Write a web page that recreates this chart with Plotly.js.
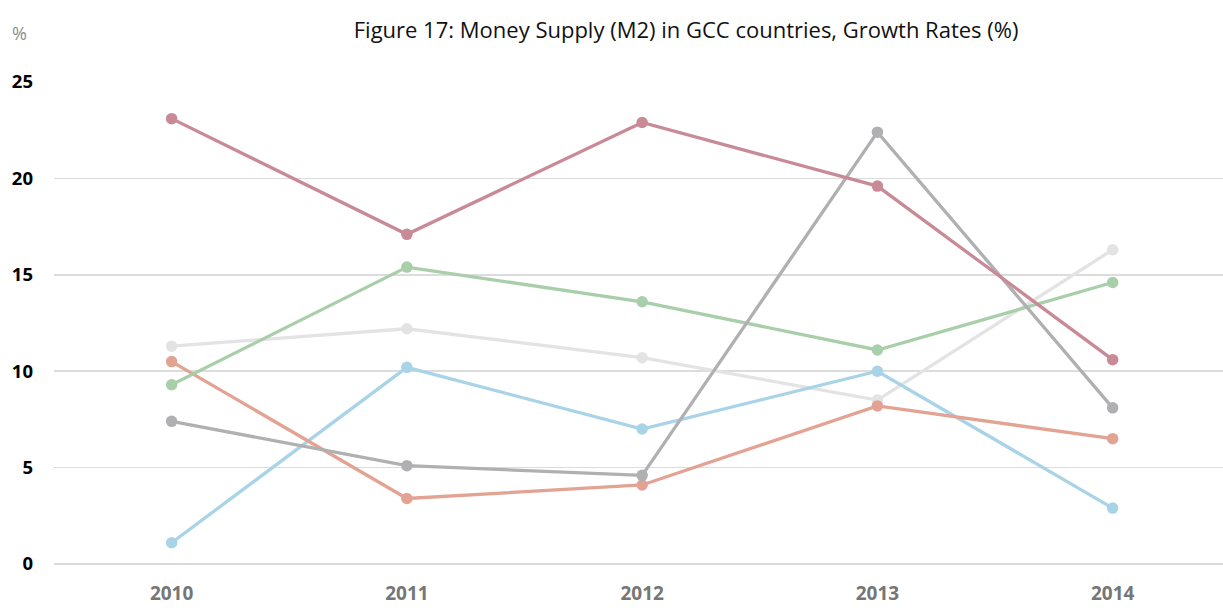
<!DOCTYPE html>
<html>
<head>
<meta charset="utf-8">
<script src="https://cdn.plot.ly/plotly-3.0.1.min.js"></script>
<style>html,body{margin:0;padding:0;background:#fff;}#chart{width:1223px;height:608px;}</style>
</head>
<body>
<div id="chart"></div>
<script>
const years = ["2010", "2011", "2012", "2013", "2014"];
const seriesPink = [23.1, 17.1, 22.9, 19.6, 10.6];
const seriesGreen = [9.3, 15.4, 13.6, 11.1, 14.6];
const seriesLightGray = [11.3, 12.2, 10.7, 8.5, 16.3];
const seriesSalmon = [10.5, 3.4, 4.1, 8.2, 6.5];
const seriesGray = [7.4, 5.1, 4.6, 22.4, 8.1];
const seriesBlue = [1.1, 10.2, 7.0, 10.0, 2.9];
const yTicks = [0, 5, 10, 15, 20, 25];

const defs = [
  {name: "Series 1", y: seriesLightGray, color: "#e3e3e3"},
  {name: "Series 2", y: seriesBlue, color: "#a9d3e6"},
  {name: "Series 3", y: seriesSalmon, color: "#e3a393"},
  {name: "Series 4", y: seriesGreen, color: "#a9cfaa"},
  {name: "Series 5", y: seriesGray, color: "#b0b0b2"},
  {name: "Series 6", y: seriesPink, color: "#c98a97"}
];

const traces = defs.map(d => ({
  type: "scatter",
  mode: "lines+markers",
  name: d.name,
  x: years.map((_, i) => i),
  y: d.y,
  line: {color: d.color, width: 3.3},
  marker: {color: d.color, size: 11.5},
  cliponaxis: false,
  hoverinfo: "y"
}));

const layout = {
  width: 1223,
  height: 608,
  margin: {l: 54, r: 0, t: 82, b: 44},
  paper_bgcolor: "#ffffff",
  plot_bgcolor: "#ffffff",
  showlegend: false,
  font: {family: "Open Sans, sans-serif"},
  title: {
    text: "Figure 17: Money Supply (M2) in GCC countries, Growth Rates (%)",
    font: {family: "Open Sans, sans-serif", size: 22, color: "#111111"},
    x: 0.561, xanchor: "center",
    y: 0.95, yanchor: "middle"
  },
  xaxis: {
    range: [-0.5, 4.469],
    tickmode: "array",
    tickvals: years.map((_, i) => i),
    ticktext: years.map(y => "<b>" + y + "</b>"),
    tickfont: {family: "Open Sans, sans-serif", size: 19, color: "#767676"},
    showgrid: false,
    zeroline: false,
    showline: false,
    ticks: "",
    ticklabelstandoff: 16
  },
  yaxis: {
    range: [0, 25],
    tickmode: "array",
    tickvals: yTicks,
    ticktext: yTicks.map(v => "<b>" + v + "</b>"),
    tickfont: {family: "Open Sans, sans-serif", size: 18.5, color: "#000000"},
    showgrid: true,
    gridcolor: "#dcdcdc",
    gridwidth: 1.5,
    zeroline: true,
    zerolinecolor: "#d9d9d9",
    zerolinewidth: 1.5,
    showline: false,
    ticks: "",
    ticklabelstandoff: 20
  },
  annotations: [
    {text: "%", xref: "paper", yref: "paper", x: -0.0295, y: 1.0, xanchor: "center", yanchor: "bottom",
     yshift: 35, showarrow: false, font: {family: "Open Sans, sans-serif", size: 18, color: "#8c8c8c"}}
  ]
};

Plotly.newPlot("chart", traces, layout, {displayModeBar: false, staticPlot: true});
</script>
</body>
</html>
